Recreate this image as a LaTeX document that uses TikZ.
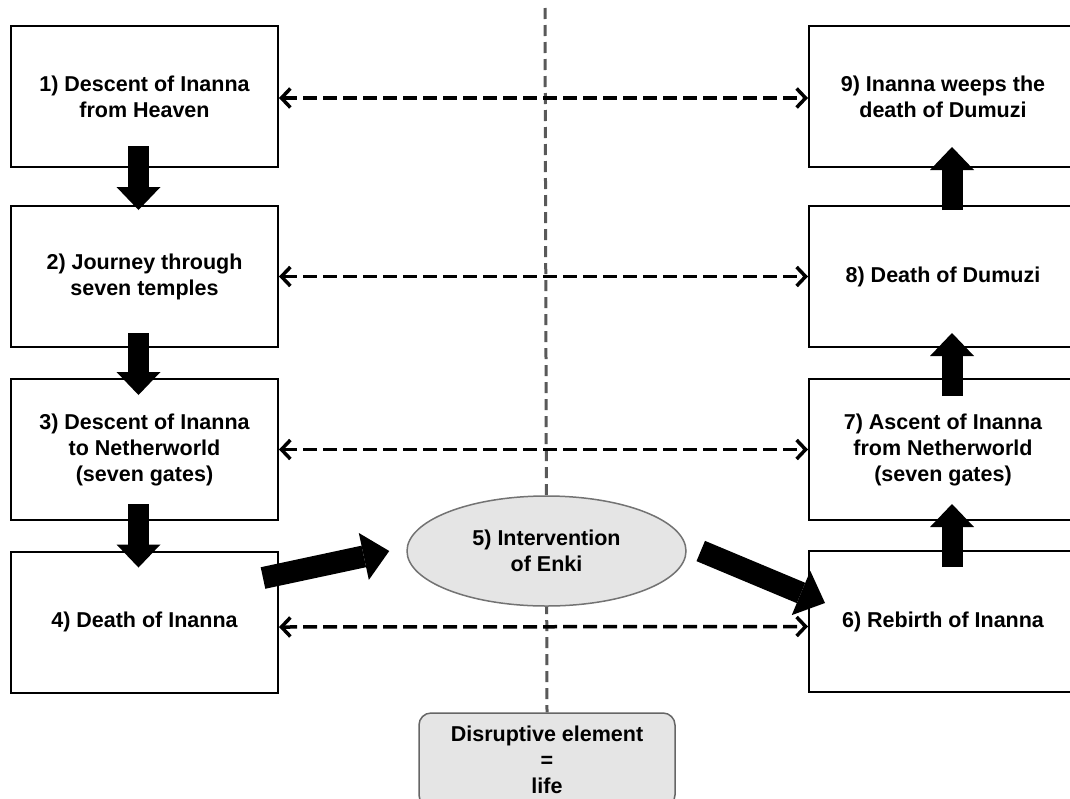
\documentclass[tikz,border=0pt]{standalone}
\usepackage{fontspec}
\setmainfont{Liberation Sans}
\usetikzlibrary{arrows.meta,shapes.geometric}
\begin{document}
\begin{tikzpicture}[x=1pt,y=-1pt,
  txt/.style={font=\bfseries\fontsize{21.5}{26}\selectfont, align=center},
  box/.style={txt, draw=black, line width=2pt, fill=white, minimum width=267pt, minimum height=141pt, inner sep=0pt},
  big/.style={line width=21pt, -{Triangle[length=23pt,width=44pt,line width=0pt]}},
  bigd/.style={line width=22pt, -{Triangle[length=26pt,width=48pt,line width=0pt]}},
  link/.style={line width=3.5pt, dash pattern=on 14pt off 6pt,
    {Straight Barb[length=9pt,width=19pt,line width=3.5pt]}-{Straight Barb[length=9pt,width=19pt,line width=3.5pt]}},
  vline/.style={draw=black!65, line width=3pt, dash pattern=on 11pt off 6pt},
  ]
\clip (0,0) rectangle (1070,798);
\fill[white] (0,0) rectangle (1070,798);

% left column
\node[box] (b1) at (144.5,96.5) {1) Descent of Inanna\\from Heaven};
\node[box] (b2) at (144.5,276.5) {2) Journey through\\seven temples};
\node[box] (b3) at (144.5,449.5) {3) Descent of Inanna\\to Netherworld\\(seven gates)};
\node[box] (b4) at (144.5,622) {4) Death of Inanna};
% right column
\node[box, minimum width=268pt] (b9) at (943,96.5) {9) Inanna weeps the\\death of Dumuzi};
\node[box, minimum width=268pt] (b8) at (943,276.5) {8) Death of Dumuzi};
\node[box, minimum width=268pt] (b7) at (943,449.5) {7) Ascent of Inanna\\from Netherworld\\(seven gates)};
\node[box, minimum width=268pt] (b6) at (943,621.5) {6) Rebirth of Inanna};

% disruptive element
\node[txt, draw=black!60, line width=1.5pt, fill=black!10, rounded corners=12pt,
      minimum width=256pt, minimum height=94pt, inner sep=0pt] (dis) at (547,760)
      {Disruptive element\\=\\life};

% vertical divider
\coordinate (top) at (545,8);
\draw[vline] (top) -- (dis.north);

% dashed correspondences
\draw[link] ([yshift=-1.5pt]b1.east) -- ([yshift=-1.5pt]b9.west);
\draw[link] (b2.east) -- (b8.west);
\draw[link] (b3.east) -- (b7.west);
\draw[link] ([yshift=-5pt]b4.east) -- ([yshift=-5pt]b6.west);

% Enki
\node[txt, ellipse, draw=black!55, line width=1.5pt, fill=black!10,
      minimum width=279pt, minimum height=110pt, inner sep=0pt] (enki) at (546.5,551)
      {5) Intervention\\of Enki};

% thick flow arrows
\draw[big] ([xshift=-6pt,yshift=22pt]b1.south) -- ([xshift=-6pt,yshift=-5pt]b2.north);
\draw[big] ([xshift=-6pt,yshift=15pt]b2.south) -- ([xshift=-6pt,yshift=-17pt]b3.north);
\draw[big] ([xshift=-6pt,yshift=17pt]b3.south) -- ([xshift=-6pt,yshift=-17pt]b4.north);
\draw[bigd] ([xshift=-16pt,yshift=44pt]b4.east) -- ([xshift=-17pt]enki.west);
\draw[bigd] ([xshift=14pt]enki.east) -- ([xshift=17pt,yshift=18.5pt]b6.west);
\draw[big] ([xshift=9pt,yshift=-17pt]b6.north) -- ([xshift=9pt,yshift=17pt]b7.south);
\draw[big] ([xshift=9pt,yshift=-18pt]b7.north) -- ([xshift=9pt,yshift=15pt]b8.south);
\draw[big] ([xshift=9pt,yshift=-5pt]b8.north) -- ([xshift=9pt,yshift=21pt]b9.south);
\end{tikzpicture}
\end{document}
